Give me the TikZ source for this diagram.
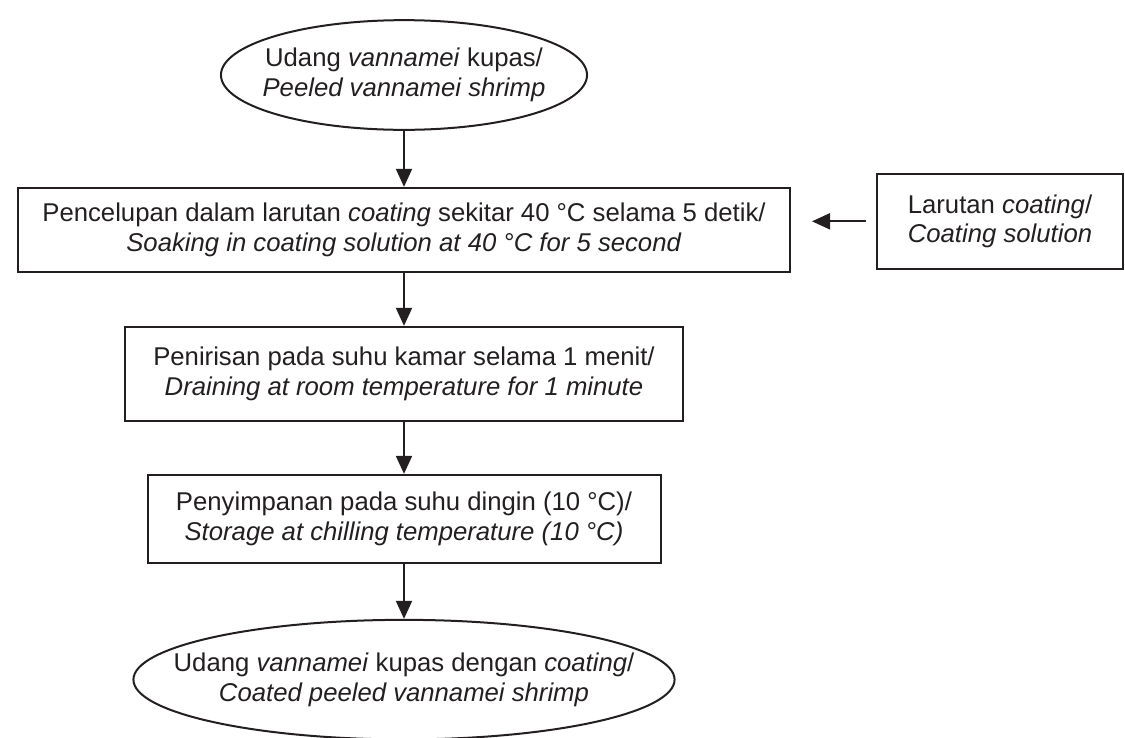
\documentclass[tikz,border=0pt]{standalone}
\usepackage{fontspec}
\setmainfont{Liberation Sans}
\usepackage{tikz}
\usetikzlibrary{positioning,arrows.meta,shapes.geometric}
\definecolor{InkBlack}{RGB}{35,31,32}

\begin{document}
\begin{tikzpicture}[
    x=1pt, y=1pt,
    node distance=53pt,
    every node/.style={font=\fontsize{25.7}{29.6}\selectfont, text=InkBlack},
    terminal/.style={ellipse, draw=InkBlack, line width=2pt, align=center},
    process/.style={rectangle, draw=InkBlack, line width=2pt, align=center},
    arr/.style={-{Triangle[length=18pt, width=16pt]}, line width=2pt, InkBlack},
]
\useasboundingbox (0,0) rectangle (1125,-737);

\node[terminal, inner xsep=-12pt, inner ysep=12pt] (start) at (404,-75)
    {Udang \textit{vannamei} kupas/\\\textit{Peeled vannamei shrimp}};
\node[process, below=56pt of start, minimum width=772pt, minimum height=84pt] (soak)
    {Pencelupan dalam larutan \textit{coating} sekitar 40 °C selama 5 detik/\\
     \textit{Soaking in coating solution at 40 °C for 5 second}};
\node[process, right=85pt of soak, yshift=8.5pt, minimum width=246pt, minimum height=95pt] (solution)
    {Larutan \textit{coating}/\\\textit{Coating solution}};
\node[process, below=of soak, minimum width=558pt, minimum height=94pt] (drain)
    {Penirisan pada suhu kamar selama 1 menit/\\
     \textit{Draining at room temperature for 1 minute}};
\node[process, below=52pt of drain, minimum width=513pt, minimum height=88pt] (store)
    {Penyimpanan pada suhu dingin (10 °C)/\\
     \textit{Storage at chilling temperature (10 °C)}};
\node[terminal, below=55pt of store, inner xsep=-39pt, inner ysep=15.5pt] (finish)
    {Udang \textit{vannamei} kupas dengan \textit{coating}/\\\textit{Coated peeled vannamei shrimp}};

\draw[arr] (start) -- (soak);
\draw[arr, shorten <=10pt, shorten >=21pt] (solution.west) -- (solution.west -| soak.east);
\draw[arr] (soak) -- (drain);
\draw[arr] (drain) -- (store);
\draw[arr] (store) -- (finish);
\end{tikzpicture}
\end{document}
